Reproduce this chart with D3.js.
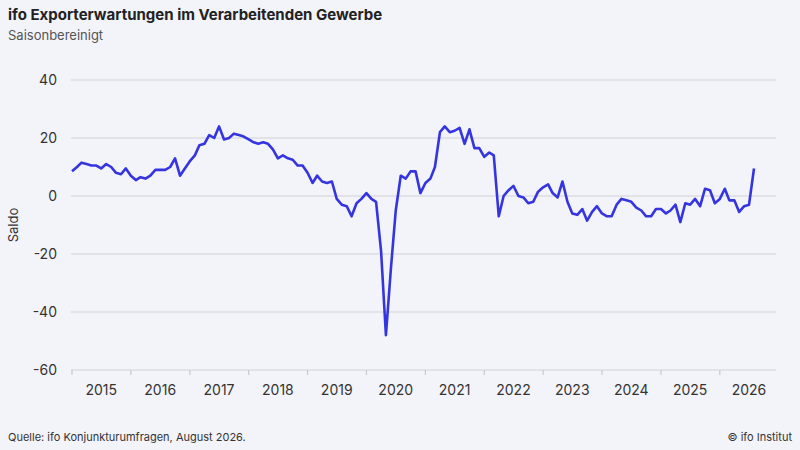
<!DOCTYPE html>
<html><head><meta charset="utf-8">
<script src="https://cdn.jsdelivr.net/npm/d3@7"></script>
<style>
body{margin:0;background:#f3f3fa;font-family:Inter,"Noto Sans",sans-serif}
</style></head>
<body><svg id="chart" width="800" height="450"></svg>
<script>
var title = "ifo Exporterwartungen im Verarbeitenden Gewerbe";
var subtitle = "Saisonbereinigt";
var source = "Quelle: ifo Konjunkturumfragen, August 2026.";
var credit = "© ifo Institut";
var yTicks = [40, 20, 0, -20, -40, -60];
var years = [2015,2016,2017,2018,2019,2020,2021,2022,2023,2024,2025,2026];
var values = [
 8.5,10,11.5,11,10.5,10.5,9.5,11,10,8,7.5,9.5,
 7,5.5,6.5,6,7,9,9,9,10,13,7,9.5,
 12,14,17.5,18,21,20,24,19.5,20,21.5,21,20.5,
 19.5,18.5,18,18.5,18,16,13,14,13,12.5,10.5,10.5,
 8,4.5,7,5,4.5,5,-1,-3,-3.5,-7,-2.5,-1,
 1,-1,-2,-19,-48,-25,-5,7,6,8.5,8.5,1,
 4.5,6,10,22,24,22,22.5,23.5,18,23,16.5,16.5,
 13.5,15,14,-7,0,2,3.5,0,-0.5,-2.5,-2,1.5,
 3,4,1,-0.5,5,-2,-6,-6.5,-4.5,-8.5,-5.5,-3.5,
 -6,-7,-7,-3,-1,-1.5,-2,-4,-5,-7,-7,-4.5,
 -4.5,-6,-5,-3,-9,-2.5,-3,-1,-3.5,2.5,2,-2.5,
 -1,2.5,-1.5,-1.5,-5.5,-3.5,-3,9.5
];

var svg = d3.select("#chart");
var data = values.map(function(v, i){ return {date: new Date(2015, i, 1), v: v}; });

var x = d3.scaleTime().domain([new Date(2015,0,1), new Date(2026,7,1)]).range([72, 754]);
var y = d3.scaleLinear().domain([-60, 40]).range([370, 80]);

svg.append("text").attr("x", 8).attr("y", 20).attr("font-size", 15).attr("font-weight", 700)
  .attr("fill", "#222").text(title);
svg.append("text").attr("x", 8).attr("y", 40).attr("font-size", 13).attr("fill", "#555").text(subtitle);

// grid + y labels
yTicks.forEach(function(t){
  svg.append("line").attr("x1", 71).attr("x2", 776).attr("y1", y(t)).attr("y2", y(t))
    .attr("stroke", "#d2d2d8").attr("stroke-width", 1.2);
  svg.append("text").attr("x", 57).attr("y", y(t)).attr("dy", "0.35em").attr("text-anchor", "end")
    .attr("font-size", 14).attr("fill", "#333").text(t);
});
svg.append("text").attr("transform", "translate(18,225) rotate(-90)").attr("text-anchor", "middle")
  .attr("font-size", 13).attr("fill", "#333").text("Saldo");

// x axis ticks at year starts
years.forEach(function(yr){
  var xs = x(new Date(yr, 0, 1));
  svg.append("line").attr("x1", xs).attr("x2", xs).attr("y1", y(-60)).attr("y2", y(-60) + 5)
    .attr("stroke", "#c8c8ce").attr("stroke-width", 1.2);
  svg.append("text").attr("x", x(new Date(yr, 6, 1))).attr("y", 395).attr("text-anchor", "middle")
    .attr("font-size", 14).attr("fill", "#333").text(yr);
});

var line = d3.line().x(function(d){ return x(d.date); }).y(function(d){ return y(d.v); });
svg.append("path").datum(data).attr("d", line).attr("fill", "none")
  .attr("stroke", "#3535e0").attr("stroke-width", 2.6).attr("stroke-linejoin", "round");

svg.append("text").attr("x", 8).attr("y", 441).attr("font-size", 11).attr("fill", "#333").text(source);
svg.append("text").attr("x", 792).attr("y", 441).attr("text-anchor", "end").attr("font-size", 11)
  .attr("fill", "#333").text(credit);
</script></body></html>
